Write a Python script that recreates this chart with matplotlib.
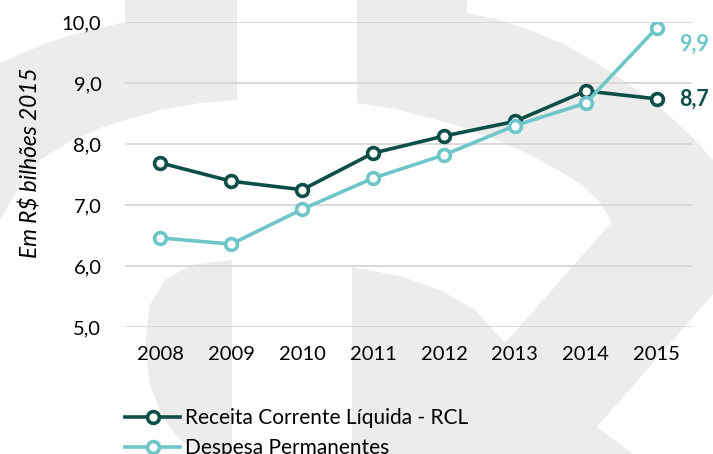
import numpy as np
import matplotlib
matplotlib.use("Agg")
import matplotlib.pyplot as plt
from matplotlib.patches import Polygon
from matplotlib.ticker import FuncFormatter

plt.rcParams['font.family'] = ['Lato', 'DejaVu Sans']

anos = ['2008', '2009', '2010', '2011', '2012', '2013', '2014', '2015']
rcl = [7.69, 7.39, 7.25, 7.85, 8.13, 8.37, 8.87, 8.74]
despesa = [6.46, 6.36, 6.93, 7.44, 7.82, 8.30, 8.67, 9.90]

cor_rcl = '#0d4f46'
cor_desp = '#6fc6c9'
cor_marca = '#ececec'

W, H = 713, 454
fig = plt.figure(figsize=(W / 100, H / 100), dpi=100)


def px(pts):
    # pixel coords (origin top-left) -> figure fraction
    return [(x / W, 1 - y / H) for x, y in pts]


# logo em marca d'agua ao fundo
formas = [
    # barra esquerda + arco superior esquerdo
    [(125, 0), (237, 0), (237, 100), (200, 103), (160, 110), (133, 118),
     (100, 128), (67, 143), (40, 160), (20, 185), (0, 220), (0, 63),
     (25, 52), (50, 42), (75, 34), (100, 28), (125, 22)],
    # meio disco inferior esquerdo
    [(232, 260), (232, 454), (200, 454), (180, 440), (163, 418), (150, 385),
     (145, 345), (150, 305), (165, 280), (190, 265)],
    # barra direita, arco superior direito e faixa diagonal
    [(357, 0), (467, 0), (467, 13), (500, 20), (530, 30), (565, 45),
     (597, 63), (630, 85), (663, 110), (690, 135), (713, 160), (713, 294),
     (597, 427), (633, 454), (352, 454), (352, 267), (400, 276), (440, 290),
     (475, 310), (505, 343), (612, 222), (598, 200), (583, 186), (563, 173),
     (530, 155), (497, 140), (465, 128), (430, 118), (395, 109), (357, 103)],
]
for f in formas:
    fig.add_artist(Polygon(px(f), closed=True, transform=fig.transFigure,
                           facecolor=cor_marca, edgecolor='none', zorder=-1))

ax = fig.add_axes([125 / W, 1 - 327 / H, 567 / W, 305 / H])
ax.patch.set_facecolor('none')

x = np.arange(len(anos))
estilo = dict(lw=2.6, marker='o', ms=8.5, mew=2.6, markerfacecolor='white')
ax.plot(x, rcl, color=cor_rcl, label='Receita Corrente Líquida - RCL', zorder=3, **estilo)
ax.plot(x, despesa, color=cor_desp, label='Despesa Permanentes', zorder=4, **estilo)


def virgula(v, pos=None):
    return f'{v:.1f}'.replace('.', ',')


# rotulos do ultimo ano
ax.annotate(virgula(despesa[-1]), (x[-1], despesa[-1]), xytext=(16.5, -11.5),
            textcoords='offset points', color=cor_desp, fontsize=15.5,
            fontweight='bold', va='center', ha='left')
ax.annotate(virgula(rcl[-1]), (x[-1], rcl[-1]), xytext=(16.5, 0),
            textcoords='offset points', color=cor_rcl, fontsize=15.5,
            fontweight='bold', va='center', ha='left')

ax.set_xlim(-0.5, len(anos) - 0.5)
ax.set_ylim(5, 10)
ax.set_xticks(x)
ax.set_xticklabels(anos)
ax.set_yticks(np.arange(5, 10.5, 1))
ax.yaxis.set_major_formatter(FuncFormatter(virgula))
ax.tick_params(length=0, labelsize=14.5, colors='black')
ax.tick_params(axis='y', pad=17)
ax.tick_params(axis='x', pad=14)
ax.grid(axis='y', color='#d9d9d9', lw=1.4)
ax.set_axisbelow(True)
for s in ax.spines.values():
    s.set_visible(False)

ax.set_ylabel('Em R$ bilhões 2015', fontsize=16.3, style='italic')
ax.yaxis.set_label_coords(-0.148, 0.54)

# a legenda desce ate a borda de baixo da figura
ax.legend(loc='upper left', bbox_to_anchor=(125 / W, 1 - 408 / H),
          bbox_transform=fig.transFigure, frameon=False, fontsize=15,
          handlelength=2.65, handletextpad=0.25, labelspacing=0.5,
          borderpad=0, borderaxespad=0)

fig.savefig('out.png', dpi=100)
